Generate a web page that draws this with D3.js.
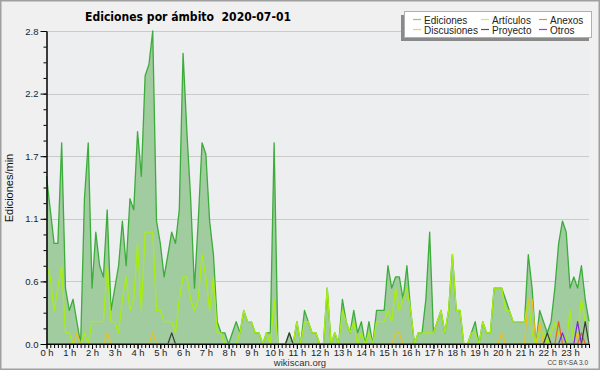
<!DOCTYPE html>
<html>
<head>
<meta charset="utf-8">
<script src="https://d3js.org/d3.v7.min.js"></script>
<style>
body {
  margin: 0;
  background: #ffffff;
}
svg {
  display: block;
  font-family: "Liberation Sans", "DejaVu Sans", sans-serif;
}
.tick text {
  fill: #222;
}
</style>
</head>
<body>
<div id="chart"></div>
<script>
// edits per minute, one value every 10 minutes (144 slots)
var ediciones = [
  1.5, 1.2, 0.9, 0.9, 1.8, 0.5, 0.3, 0.4, 0.2, 0.0,
  1.3, 1.8, 0.5, 1.0, 0.7, 0.6, 1.2, 0.3, 0.5, 0.7,
  1.1, 0.7, 1.3, 1.2, 1.9, 1.5, 2.4, 2.5, 2.8, 1.1,
  0.9, 0.6, 0.8, 1.0, 0.9, 1.2, 2.6, 1.9, 1.3, 0.5,
  1.1, 1.8, 1.7, 1.1, 0.8, 0.2, 0.1, 0.1, 0.0, 0.1,
  0.2, 0.1, 0.3, 0.2, 0.2, 0.1, 0.1, 0.0, 0.1, 0.1,
  1.8, 0.0, 0.0, 0.0, 0.1, 0.0, 0.2, 0.0, 0.3, 0.2,
  0.1, 0.1, 0.0, 0.0, 0.5, 0.0, 0.1, 0.0, 0.4, 0.2,
  0.1, 0.3, 0.1, 0.2, 0.0, 0.2, 0.0, 0.3, 0.3, 0.3,
  0.7, 0.5, 0.6, 0.6, 0.4, 0.7, 0.3, 0.0, 0.1, 0.1,
  0.4, 1.0, 0.1, 0.2, 0.3, 0.1, 0.3, 0.8, 0.3, 0.3,
  0.0, 0.0, 0.1, 0.2, 0.0, 0.2, 0.1, 0.1, 0.5, 0.5,
  0.5, 0.4, 0.3, 0.2, 0.2, 0.2, 0.2, 0.8, 0.5, 0.0,
  0.3, 0.2, 0.1, 0.2, 0.5, 0.9, 1.1, 1.0, 0.5, 0.6,
  0.5, 0.7, 0.4, 0.2
];
var articulos = [
  0.7, 0.6, 0.3, 0.5, 0.7, 0.1, 0.1, 0.0, 0.0, 0.0,
  0.1, 0.0, 0.2, 0.2, 0.2, 0.2, 0.7, 0.2, 0.2, 0.1,
  0.4, 0.6, 0.3, 0.4, 0.9, 0.3, 1.0, 1.0, 1.0, 0.3,
  0.3, 0.2, 0.2, 0.2, 0.1, 0.4, 0.6, 0.6, 0.4, 0.3,
  0.4, 0.8, 0.6, 0.3, 0.6, 0.1, 0.1, 0.0, 0.0, 0.0,
  0.0, 0.1, 0.3, 0.2, 0.2, 0.1, 0.1, 0.0, 0.1, 0.0,
  0.4, 0.0, 0.0, 0.0, 0.0, 0.0, 0.2, 0.0, 0.2, 0.2,
  0.1, 0.1, 0.0, 0.0, 0.5, 0.0, 0.1, 0.0, 0.3, 0.2,
  0.1, 0.2, 0.0, 0.1, 0.0, 0.1, 0.0, 0.2, 0.2, 0.2,
  0.3, 0.2, 0.5, 0.3, 0.4, 0.5, 0.3, 0.0, 0.1, 0.1,
  0.1, 0.1, 0.1, 0.2, 0.3, 0.1, 0.3, 0.8, 0.3, 0.3,
  0.0, 0.0, 0.1, 0.1, 0.0, 0.2, 0.1, 0.1, 0.5, 0.5,
  0.5, 0.3, 0.3, 0.2, 0.2, 0.2, 0.2, 0.4, 0.1, 0.0,
  0.1, 0.1, 0.0, 0.1, 0.2, 0.1, 0.0, 0.0, 0.3, 0.0,
  0.1, 0.4, 0.2, 0.2
];
// small series: [slot, value], every other slot is 0
var discusiones = [[8, 0.1], [16, 0.1], [28, 0.1], [92, 0.1], [93, 0.1], [120, 0.1], [127, 0.4], [128, 0.4], [130, 0.2], [140, 0.1]];
var proyecto = [[33, 0.1], [64, 0.1], [132, 0.1], [142, 0.2]];
var anexos = [[135, 0.2], [141, 0.1]];
var otros = [[136, 0.1], [140, 0.2]];

var hourLabels = ['0 h', '1 h', '2 h', '3 h', '4 h', '5 h', '6 h', '7 h', '8 h', '9 h', '10 h', '11 h',
  '12 h', '13 h', '14 h', '15 h', '16 h', '17 h', '18 h', '19 h', '20 h', '21 h', '22 h', '23 h'];
var yTicks = [0, 0.56, 1.12, 1.68, 2.24, 2.8];
var legendNames = ['Ediciones', 'Artículos', 'Anexos', 'Discusiones', 'Proyecto', 'Otros'];
var legendColors = ['#7dcf7d', '#c8f050', '#f08050', '#f5d040', '#555555', '#9040f0'];

//___________________________________________________________
var WIDTH = 600;
var HEIGHT = 370;
var N = ediciones.length;
var L = 46.5, R = 589, T = 31, B = 344;

function fill(points) {
  var arr = d3.range(N).map(function() { return 0; });
  points.forEach(function(p) { arr[p[0]] = p[1]; });
  return arr;
}

var svg = d3.select('#chart').append('svg')
  .attr('width', WIDTH)
  .attr('height', HEIGHT);

svg.append('rect')
  .attr('x', 0.5).attr('y', 0.5)
  .attr('width', WIDTH - 1).attr('height', HEIGHT - 1)
  .style('fill', '#f0f0f0')
  .style('stroke', '#a0a0a0')
  .style('stroke-width', 2);

svg.append('rect')
  .attr('x', L).attr('y', T)
  .attr('width', R - L).attr('height', B - T)
  .style('fill', '#edeef0');

var x = d3.scaleLinear().domain([0, N - 1]).range([L, R]);
var y = d3.scaleLinear().domain([0, 2.8]).range([B, T]);

// grid
svg.append('g').selectAll('line')
  .data(yTicks.slice(1))
  .enter().append('line')
    .attr('x1', L).attr('x2', R)
    .attr('y1', function(d) { return Math.round(y(d)) + 0.5; })
    .attr('y2', function(d) { return Math.round(y(d)) + 0.5; })
    .style('stroke', '#cacaca');

//Series______________________________________________________
var area = d3.area()
  .x(function(d, i) { return x(i); })
  .y0(y(0))
  .y1(function(d) { return y(d); });
var line = d3.line()
  .x(function(d, i) { return x(i); })
  .y(function(d) { return y(d); });

svg.append('path')
  .datum(ediciones)
  .attr('d', area)
  .style('fill', '#a0cc9f');

var series = [
  {data: ediciones, color: '#3cac3a', w: 1.3},
  {data: articulos, color: '#a8ee10', w: 1.3},
  {data: fill(discusiones), color: '#f0c020', w: 1.2},
  {data: fill(anexos), color: '#f06020', w: 1.2},
  {data: fill(proyecto), color: '#3c3c30', w: 1.2},
  {data: fill(otros), color: '#7a28e0', w: 1.2}
];
svg.append('g')
  .attr('fill', 'none')
  .attr('stroke-linejoin', 'round')
  .selectAll('path')
  .data(series)
  .enter().append('path')
    .attr('d', function(d) { return line(d.data); })
    .style('stroke', function(d) { return d.color; })
    .style('stroke-width', function(d) { return d.w; });

//Axes________________________________________________________
svg.append('g')
  .attr('transform', 'translate(' + L + ',0)')
  .call(d3.axisLeft(y).tickValues(d3.range(0, 2.81, 0.14)).tickSize(3).tickSizeOuter(0).tickFormat(''));
var yAxis = svg.append('g')
  .attr('transform', 'translate(' + L + ',0)')
  .call(d3.axisLeft(y).tickValues(yTicks).tickSize(6).tickSizeOuter(0).tickPadding(2).tickFormat(d3.format('.1f')));
yAxis.selectAll('text').style('font-size', '9.5px');

svg.append('g')
  .attr('transform', 'translate(0,' + B + ')')
  .call(d3.axisBottom(x).tickValues(d3.range(0, N)).tickSize(4).tickSizeOuter(0).tickFormat(''));
var xAxis = svg.append('g')
  .attr('transform', 'translate(0,' + B + ')')
  .call(d3.axisBottom(x).tickValues(d3.range(0, N, 6)).tickSize(5).tickSizeOuter(0).tickPadding(0)
    .tickFormat(function(d, i) { return hourLabels[i]; }));
xAxis.selectAll('text').style('font-size', '9.5px');

svg.selectAll('.domain').style('stroke', '#000');
svg.selectAll('.tick line').style('stroke', '#000');

//Texts_______________________________________________________
svg.append('text')
  .attr('x', 188).attr('y', 21)
  .attr('text-anchor', 'middle')
  .attr('textLength', 206)
  .attr('lengthAdjust', 'spacingAndGlyphs')
  .style('white-space', 'pre')
  .style('font-family', '"DejaVu Sans", sans-serif')
  .style('font-weight', 'bold')
  .style('font-size', '12px')
  .text('Ediciones por ámbito  2020-07-01');

svg.append('text')
  .attr('transform', 'translate(13,188) rotate(-90)')
  .attr('text-anchor', 'middle')
  .style('font-size', '11px')
  .style('fill', '#111')
  .text('Ediciones/min');

svg.append('text')
  .attr('x', 300).attr('y', 366)
  .attr('text-anchor', 'middle')
  .style('font-size', '9.5px')
  .style('fill', '#333')
  .text('wikiscan.org');

svg.append('text')
  .attr('x', 588).attr('y', 365)
  .attr('text-anchor', 'end')
  .style('font-size', '6.5px')
  .style('fill', '#444')
  .text('CC BY-SA 3.0');

//Legend______________________________________________________
var legend = svg.append('g');
legend.append('rect')
  .attr('x', 401).attr('y', 15)
  .attr('width', 188).attr('height', 26)
  .style('fill', '#8a8a8a');
legend.append('rect')
  .attr('x', 404.5).attr('y', 11.5)
  .attr('width', 187).attr('height', 26)
  .style('fill', '#ffffff')
  .style('stroke', '#b0b0b0');

var colX = [413, 481, 539];
var rowY = [20, 30];
var items = legend.selectAll('g.item')
  .data(legendNames)
  .enter().append('g')
    .attr('class', 'item')
    .attr('transform', function(d, i) { return 'translate(' + colX[i % 3] + ',' + rowY[Math.floor(i / 3)] + ')'; });
items.append('line')
  .attr('x1', 0).attr('x2', 8)
  .attr('y1', -0.5).attr('y2', -0.5)
  .style('stroke', function(d, i) { return legendColors[i]; })
  .style('stroke-width', 1.2);
items.append('text')
  .attr('x', 11).attr('y', 3.5)
  .style('font-size', '10px')
  .style('fill', '#222')
  .text(function(d) { return d; });
</script>
</body>
</html>
